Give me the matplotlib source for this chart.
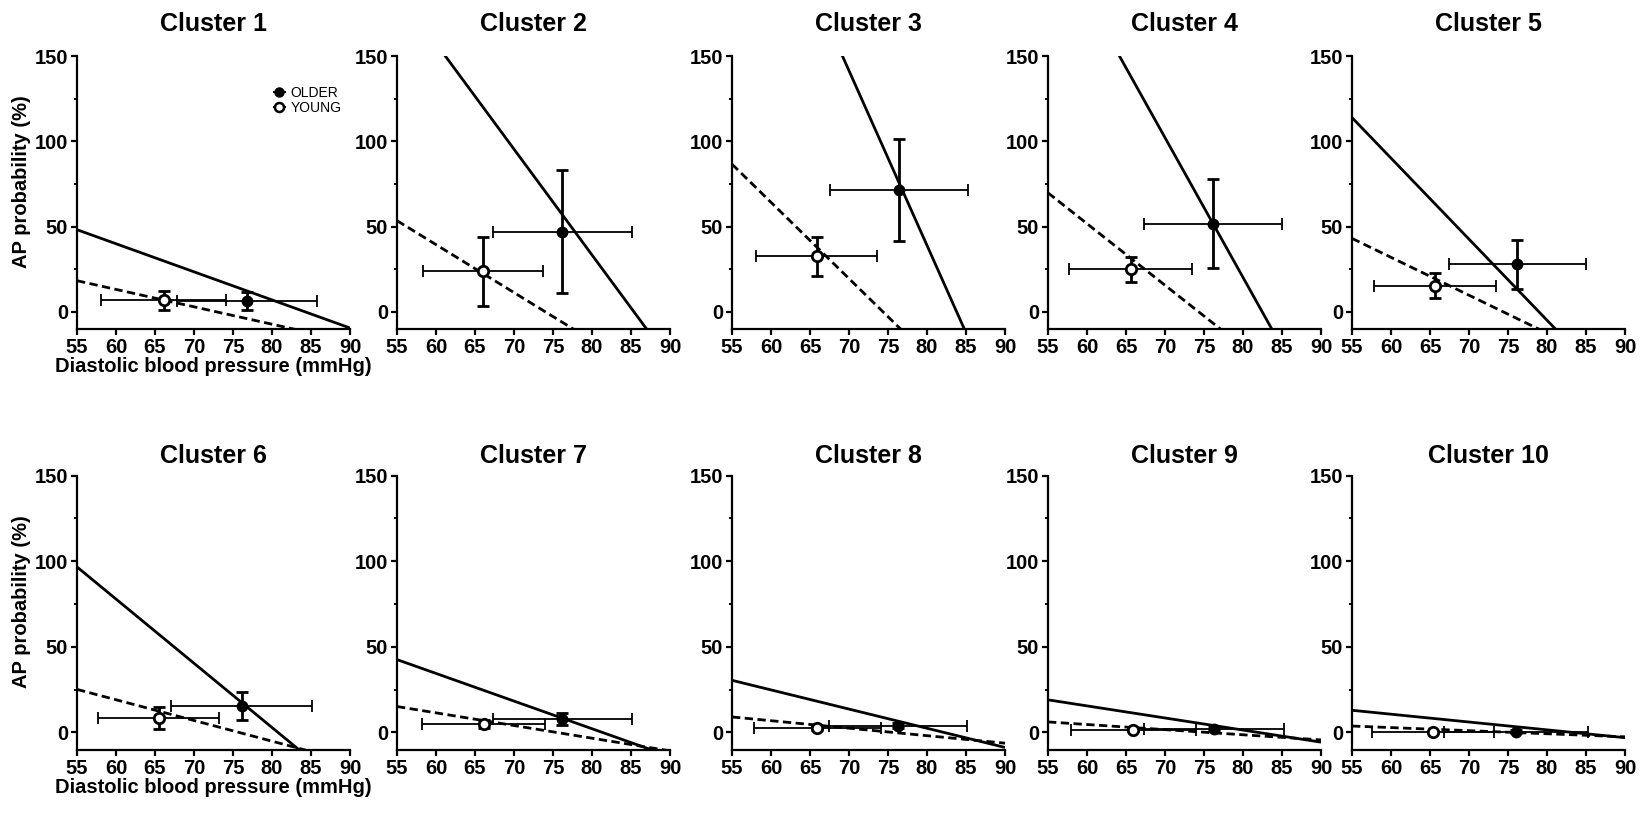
import matplotlib.pyplot as plt
import numpy as np
from matplotlib.lines import Line2D
from matplotlib.ticker import MultipleLocator

plt.rcParams["font.family"] = ["Liberation Sans", "DejaVu Sans"]
plt.rcParams["font.weight"] = "bold"

clusters = [f"Cluster {i}" for i in range(1, 11)]

# group means and SD (diastolic BP on x, AP probability on y)
older_x = [76.8, 76.2, 76.4, 76.1, 76.2, 76.1, 76.2, 76.3, 76.3, 76.0]
older_xerr = [9.0, 8.9, 8.85, 8.85, 8.8, 9.0, 8.95, 8.85, 8.95, 9.2]
older_y = [6.2, 47.0, 71.4, 51.8, 28.0, 15.5, 7.8, 3.9, 2.2, 0.5]
older_yerr = [5.3, 36.0, 30.0, 25.9, 14.3, 8.0, 3.3, 1.5, 1.5, 1.0]

young_x = [66.1, 66.0, 65.85, 65.6, 65.6, 65.5, 66.1, 65.95, 65.95, 65.4]
young_xerr = [8.0, 7.7, 7.75, 7.9, 7.8, 7.75, 7.9, 8.1, 8.0, 7.8]
young_y = [6.8, 23.7, 32.7, 24.9, 15.3, 8.2, 4.9, 2.5, 1.6, 0.3]
young_yerr = [5.5, 20.0, 11.5, 7.4, 7.3, 6.5, 2.5, 1.0, 0.8, 0.5]

# regression lines: value at 55 mmHg and slope per mmHg
older_y55 = [48.2, 188.4, 295.0, 225.0, 113.9, 96.6, 42.5, 30.4, 19.0, 12.9]
older_slope = [-1.646, -6.2, -10.24, -8.19, -4.75, -3.75, -1.615, -1.12, -0.706, -0.457]
young_y55 = [18.3, 53.5, 86.6, 69.8, 43.1, 25.1, 15.1, 9.0, 6.1, 3.7]
young_slope = [-1.02, -2.81, -4.47, -3.61, -2.22, -1.21, -0.74, -0.437, -0.3, -0.18]

W, H = 1646, 813
LEFTS = [77, 397, 732, 1048, 1352]
AX_W = 273
ROWS = [(329, 273, 18), (749.5, 274, 9)]  # bottom px, height px, title pad

fig = plt.figure(figsize=(W / 100, H / 100), dpi=100)
line_x = np.array([55.0, 90.0])

for i, name in enumerate(clusters):
    row, col = divmod(i, 5)
    bottom_px, height_px, title_pad = ROWS[row]
    ax = fig.add_axes(
        [LEFTS[col] / W, 1 - bottom_px / H, AX_W / W, height_px / H]
    )

    ax.plot(line_x, older_y55[i] + older_slope[i] * (line_x - 55),
            color="black", lw=2.0, solid_capstyle="butt", zorder=2)
    ax.plot(line_x, young_y55[i] + young_slope[i] * (line_x - 55),
            color="black", lw=2.0, linestyle=(0, (3, 1.6)), zorder=2)

    for x, xe, y, ye in [
        (older_x[i], older_xerr[i], older_y[i], older_yerr[i]),
        (young_x[i], young_xerr[i], young_y[i], young_yerr[i]),
    ]:
        ax.errorbar(x, y, xerr=xe, fmt="none", ecolor="black",
                    elinewidth=1.3, capsize=4, capthick=1.3, zorder=3)
        ax.errorbar(x, y, yerr=ye, fmt="none", ecolor="black",
                    elinewidth=2.0, capsize=4, capthick=2.0, zorder=3)

    ax.plot(older_x[i], older_y[i], "o", color="black", ms=7.5, zorder=4)
    ax.plot(young_x[i], young_y[i], "o", mfc="white", mec="black",
            mew=2.0, ms=7.5, zorder=4)

    ax.set_xlim(55, 90)
    ax.set_ylim(-10, 150)
    ax.set_xticks(np.arange(55, 91, 5))
    ax.set_yticks([0, 50, 100, 150])
    ax.yaxis.set_minor_locator(MultipleLocator(25))
    for side in ["top", "right"]:
        ax.spines[side].set_visible(False)
    for side in ["left", "bottom"]:
        ax.spines[side].set_linewidth(1.6)
    ax.tick_params(axis="both", which="major", direction="out", length=4.5,
                   width=1.6, labelsize=14.5, pad=2)
    ax.tick_params(axis="y", which="minor", direction="out", length=2.5,
                   width=1.4)
    ax.set_title(name, fontsize=18, fontweight="bold", pad=title_pad)

    if col == 0:
        ax.set_ylabel("AP probability (%)", fontsize=14.5, fontweight="bold")
        ax.yaxis.set_label_coords(-0.17, 0.54)
        ax.set_xlabel("Diastolic blood pressure (mmHg)", fontsize=14.5,
                      fontweight="bold", labelpad=0)

    if i == 0:
        handles = [
            Line2D([], [], color="black", marker="o", ms=6.5, lw=1.5),
            Line2D([], [], color="black", marker="o", ms=6.5, mfc="white",
                   mew=1.8, lw=1.5),
        ]
        ax.legend(handles, ["OLDER", "YOUNG"], loc="upper left",
                  bbox_to_anchor=(0.70, 0.91), frameon=False,
                  handlelength=0.8, handletextpad=0.4,
                  labelspacing=0.05, borderaxespad=0,
                  prop={"size": 10, "weight": "normal"})

fig.savefig("out.png", dpi=100)
